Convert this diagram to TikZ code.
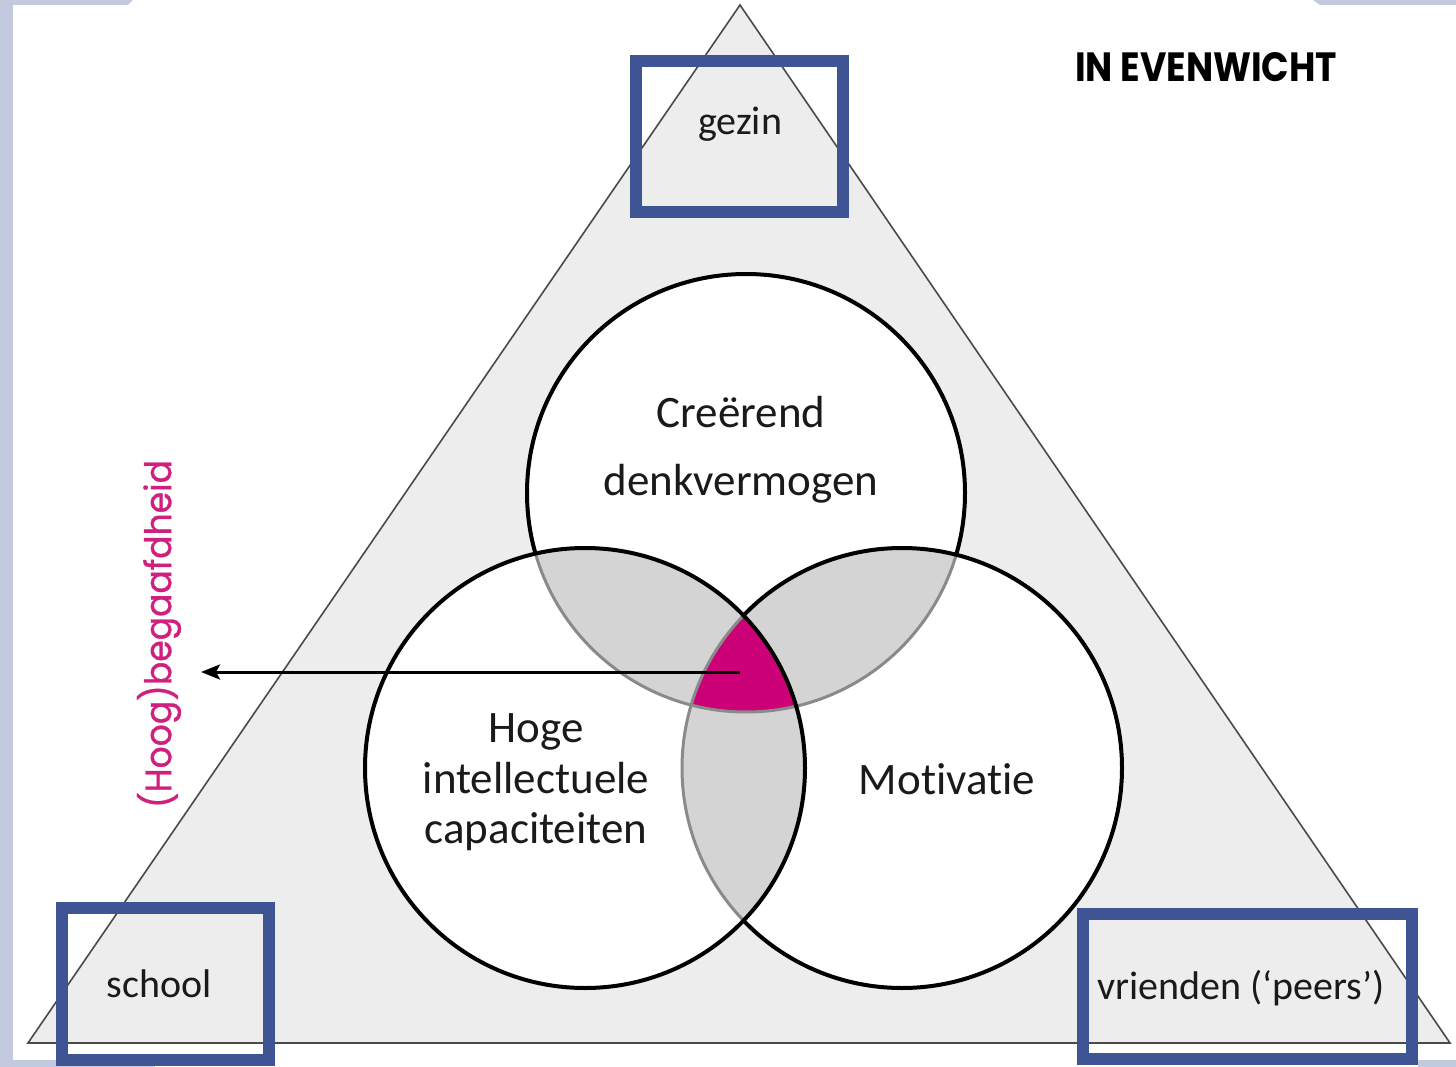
\documentclass[tikz,border=0pt]{standalone}
\usepackage{fontspec}
\setmainfont{Carlito}[RawFeature=-liga]
\newfontfamily\geofont{Poppins}
\newfontfamily\geolabel{Poppins}[FakeBold=0.8]
\usetikzlibrary{arrows.meta}
\definecolor{slideblue}{HTML}{C3C9DE}
\definecolor{boxblue}{HTML}{3F5493}
\definecolor{trifill}{HTML}{EDEDED}
\definecolor{triline}{HTML}{4A4A4A}
\definecolor{overlap}{HTML}{D4D4D4}
\definecolor{arcgray}{HTML}{8A8A8A}
\definecolor{core}{HTML}{CC0077}
\definecolor{labelmag}{HTML}{D0207E}
\definecolor{txt}{HTML}{1A1A1A}
\tikzset{
  framebox/.style={draw=boxblue,line width=12pt},
  smalltxt/.style={font=\fontsize{40}{48}\selectfont,text=txt,anchor=base,inner sep=0pt},
  bigtxt/.style={font=\fontsize{45}{54}\selectfont,text=txt,anchor=base,inner sep=0pt},
  ring/.style={line width=4pt,draw=black},
  softring/.style={line width=3pt,draw=arcgray},
}
\begin{document}
\begin{tikzpicture}[x=1pt,y=-1pt]
\useasboundingbox (0,0) rectangle (1456,1067);
% slide background
\fill[white] (0,0) rectangle (1456,1067);
\fill[slideblue] (0,0) rectangle (13,1067);
\fill[slideblue] (0,0) -- (133,0) -- (128,5) -- (0,5) -- cycle;
\fill[slideblue] (1313,0) -- (1456,0) -- (1456,5) -- (1320,5) -- cycle;
\fill[slideblue] (0,1060) rectangle (155,1067);
\fill[slideblue] (1418,1060) rectangle (1456,1067);
% triangle
\coordinate (apex) at (740,5);
\coordinate (bl) at (28,1043);
\coordinate (br) at (1450,1043);
\filldraw[fill=trifill,draw=triline,line width=1.6pt] (apex) -- (bl) -- (br) -- cycle;
% circles
\coordinate (T) at (746,493);
\coordinate (L) at (585,768);
\coordinate (R) at (902,768);
\def\rT{219pt}\def\rL{220pt}
\fill[white] (T) circle[radius=\rT] (L) circle[radius=\rL] (R) circle[radius=\rL];
\begin{scope}
  \clip (L) circle[radius=\rL];
  \fill[overlap] (R) circle[radius=\rL];
  \fill[overlap] (T) circle[radius=\rT];
\end{scope}
\begin{scope}
  \clip (R) circle[radius=\rL];
  \fill[overlap] (T) circle[radius=\rT];
\end{scope}
\begin{scope}
  \clip (L) circle[radius=\rL];
  \clip (R) circle[radius=\rL];
  \fill[core] (T) circle[radius=\rT];
\end{scope}
% outlines
\draw[softring] (T) circle[radius=\rT];
\draw[softring] (R) circle[radius=\rL];
\draw[ring] (L) circle[radius=\rL];
\begin{scope}[even odd rule]
  \clip (-10,-10) rectangle (1470,1080) (L) circle[radius=\rL];
  \draw[ring] (R) circle[radius=\rL];
  \begin{scope}[even odd rule]
    \clip (-10,-10) rectangle (1470,1080) (R) circle[radius=\rL];
    \draw[ring] (T) circle[radius=\rT];
  \end{scope}
\end{scope}
% circle texts
\node[bigtxt] (crea1) at (741,427) {Creërend};
\node[bigtxt] (crea2) at (741,495) {denkvermogen};
\node[bigtxt] (hoge1) at (536,742) {Hoge};
\node[bigtxt] (hoge2) at (536,793) {intellectuele};
\node[bigtxt] (hoge3) at (536,843) {capaciteiten};
\node[bigtxt] (moti) at (947,794) {Mot\kern0pt ivat\kern0pt ie};
% arrow
\coordinate (kern) at (740,672);
\coordinate (uit) at (201,672);
\draw[line width=3pt,-{Stealth[length=19pt,width=15pt,inset=4pt]}] (kern) -- (uit);
% corner boxes
\draw[framebox] (636,61) rectangle (842.5,212.5);
\draw[framebox] (61.5,907.5) rectangle (269,1059.5);
\draw[framebox] (1083,914) rectangle (1412,1059);
\node[smalltxt] (gezin) at (740,135) {gezin};
\node[smalltxt] (school) at (159,997) {school};
\node[smalltxt] (vrienden) at (1241,999) {vrienden (‘peers’)};
% title and side label
\node[anchor=base west,inner sep=0pt] (titel) at (1075,82) {\resizebox{262pt}{29pt}{\geofont\bfseries IN EVENWICHT}};
\node[rotate=90,inner sep=0pt,text=labelmag] (begaafd) at (159,634) {\resizebox*{348pt}{44pt}{\geolabel (Hoog)begaafdheid}};
\end{tikzpicture}
\end{document}
